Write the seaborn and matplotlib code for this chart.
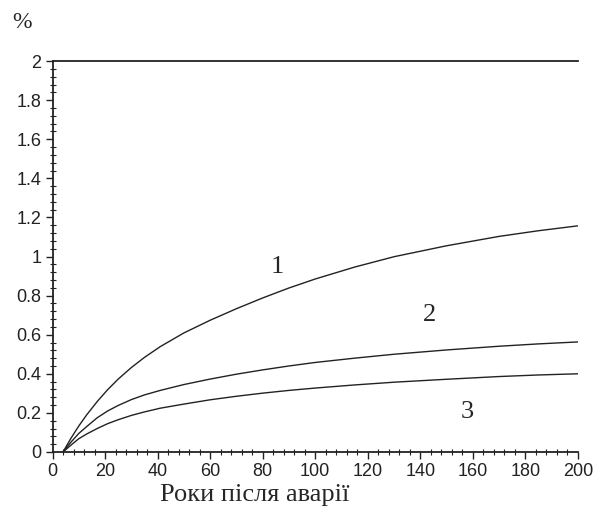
import matplotlib
matplotlib.use("Agg")
import matplotlib.pyplot as plt
from matplotlib.ticker import MultipleLocator, FormatStrFormatter
import seaborn as sns
import pandas as pd

# values
years = [4, 7, 10, 13, 17, 21, 25, 30, 35, 41, 50, 60, 70, 80, 90, 100,
         115, 130, 150, 170, 185, 200]
curve_1 = [0, 0.07, 0.133, 0.19, 0.258, 0.319, 0.373, 0.432, 0.484, 0.539, 0.609,
           0.674, 0.733, 0.788, 0.839, 0.885, 0.946, 0.999, 1.055, 1.103, 1.132, 1.157]
curve_2 = [0, 0.05, 0.095, 0.13, 0.175, 0.21, 0.238, 0.268, 0.292, 0.315, 0.345,
           0.373, 0.398, 0.42, 0.44, 0.458, 0.48, 0.50, 0.522, 0.541, 0.553, 0.563]
curve_3 = [0, 0.035, 0.068, 0.092, 0.12, 0.145, 0.165, 0.187, 0.205, 0.224, 0.245,
           0.267, 0.285, 0.301, 0.315, 0.327, 0.343, 0.357, 0.372, 0.386, 0.394, 0.40]
curve_names = ["1", "2", "3"]
label_pos = [(85.4, 0.948), (143.5, 0.70), (157.8, 0.206)]

sns.set_style("white")
plt.rcParams['font.family'] = ['Liberation Sans', 'DejaVu Sans']

df = pd.DataFrame({
    "year": years * 3,
    "value": curve_1 + curve_2 + curve_3,
    "curve": [n for n in curve_names for _ in years],
})

fig = plt.figure(figsize=(5.97, 5.11), dpi=100)
ax = fig.add_axes([0.088, 0.1155, 0.88, 0.765])

sns.lineplot(data=df, x="year", y="value", units="curve", estimator=None,
             color="#222222", linewidth=1.0, ax=ax, legend=False)

ax.set_xlim(0, 200)
ax.set_ylim(0, 2)
ax.xaxis.set_major_locator(MultipleLocator(20))
ax.xaxis.set_minor_locator(MultipleLocator(4))
ax.yaxis.set_major_locator(MultipleLocator(0.2))
ax.yaxis.set_minor_locator(MultipleLocator(0.04))
ax.yaxis.set_major_formatter(FormatStrFormatter('%g'))

ax.spines['right'].set_visible(False)
for s in ['left', 'bottom', 'top']:
    ax.spines[s].set_linewidth(1.3)
    ax.spines[s].set_color('#222222')

ax.tick_params(which='both', top=False, right=False, left=True, bottom=True)
ax.tick_params(which='major', direction='out', length=5, width=1.0,
               labelsize=13, pad=3, colors='#222222')
ax.tick_params(which='minor', direction='inout', length=4, width=0.8,
               colors='#222222')
ax.set_xlabel("")
ax.set_ylabel("")

for name, (x, y) in zip(curve_names, label_pos):
    ax.text(x, y, name, fontsize=19, family='Liberation Serif',
            ha='center', va='center')

fig.text(22 / 597, 1 - 22 / 511, "%", fontsize=17, family='Liberation Serif',
         ha='center', va='center')
fig.text(255 / 597, 1 - 495 / 511, "Роки після аварії", fontsize=19,
         family='Liberation Serif', ha='center', va='center')

fig.savefig("out.png", dpi=100)
